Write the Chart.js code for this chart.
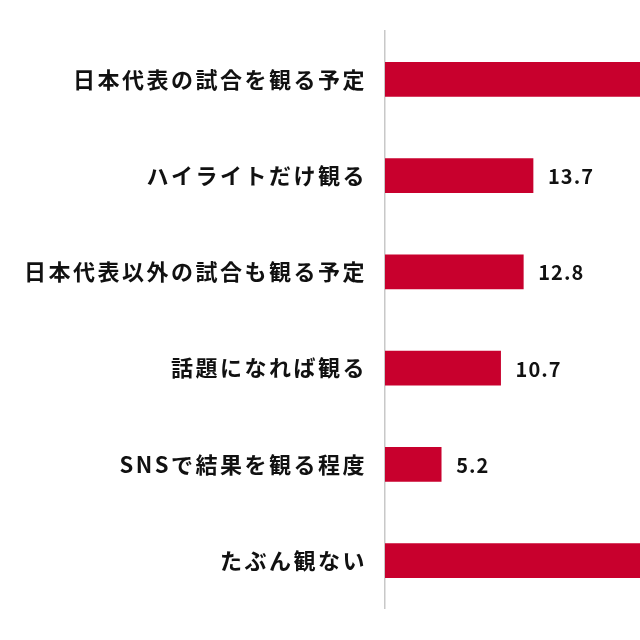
<!DOCTYPE html>
<html><head><meta charset="utf-8">
<script src="https://cdn.jsdelivr.net/npm/chart.js@4"></script>
<style>html,body{margin:0;padding:0;background:#fff}#w{width:640px;height:640px}</style>
</head><body><div id="w"><canvas id="c"></canvas></div>
<script>
const categories=["日本代表の試合を観る予定","ハイライトだけ観る","日本代表以外の試合も観る予定","話題になれば観る","SNSで結果を観る程度","たぶん観ない"];
const values=[38.5,13.7,12.8,10.7,5.2,31.0];
const spacing={id:'sp',beforeDraw(ch){ch.ctx.letterSpacing='2.5px';}};
const labelPlugin={id:'lbl',afterDatasetsDraw(ch){const ctx=ch.ctx;const m=ch.getDatasetMeta(0);ctx.save();ctx.letterSpacing='1px';ctx.font='bold 20px "Noto Sans CJK JP"';ctx.fillStyle='#111';ctx.textBaseline='middle';m.data.forEach((b,i)=>{ctx.fillText(values[i].toFixed(1),b.x+15,b.y+1);});ctx.restore();}};
new Chart(document.getElementById('c'),{type:'bar',data:{labels:categories,datasets:[{data:values,backgroundColor:'#c8002d',barThickness:34}]},
options:{indexAxis:'y',responsive:true,maintainAspectRatio:false,animation:false,layout:{padding:{top:26,bottom:26,left:0,right:0}},
plugins:{legend:{display:false},tooltip:{enabled:false}},
scales:{x:{display:false,min:0,max:23.6},y:{afterFit(s){s.width=385;},grid:{display:false,drawTicks:false},border:{color:'#c8c8c8',width:1.5},ticks:{padding:18,color:'#111',font:{family:'"Noto Sans CJK JP"',size:22,weight:'bold'}}}}},plugins:[spacing,labelPlugin]});
</script></body></html>
